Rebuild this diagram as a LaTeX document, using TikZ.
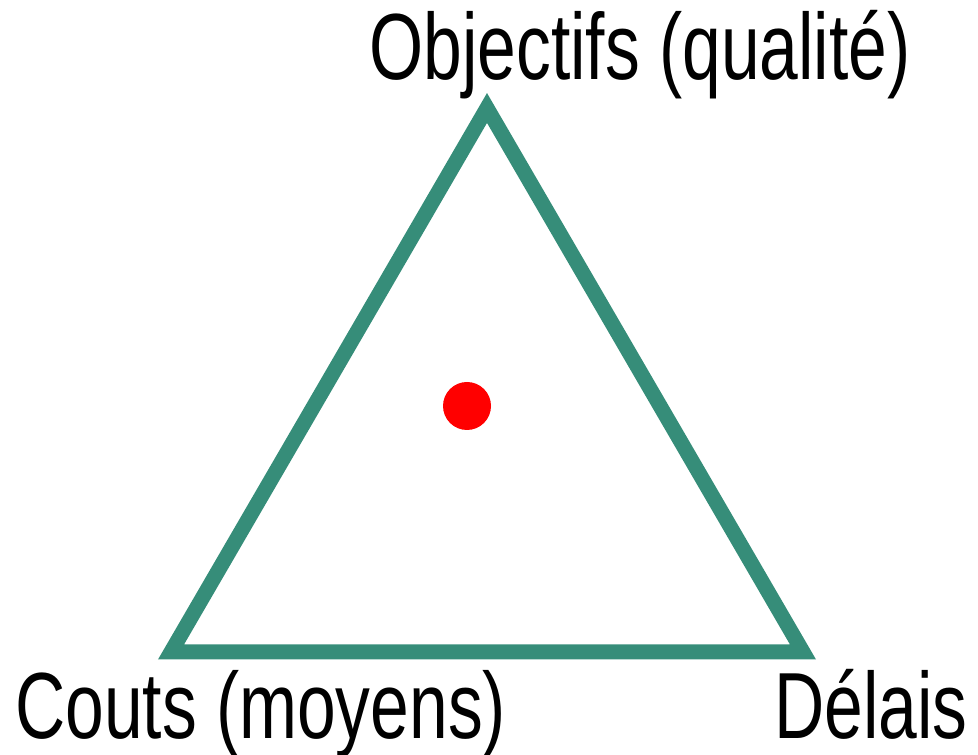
\documentclass[tikz,border=0pt]{standalone}
\usepackage{fontspec}
\setmainfont{Liberation Sans}[FakeStretch=0.74]
\usepackage{tikz}
\definecolor{triteal}{RGB}{54,141,121}

\begin{document}
\begin{tikzpicture}[x=1pt,y=1pt,
  lbl/.style={inner sep=0pt,font=\fontsize{94}{100}\selectfont},
  edge/.style={draw=triteal,line width=15pt,line join=miter}]
\useasboundingbox (0,0) rectangle (978,755);
% corners of the triangle
\coordinate (obj) at (487,647);
\coordinate (cout) at (171,103);
\coordinate (del) at (803,103);
\draw[edge] (obj) -- (del) -- (cout) -- cycle;
% current point
\fill[red] (467,349) circle (24);
\node[lbl,anchor=base] (objlbl) at (640,675) {Objectifs (qualité)};
\node[lbl,anchor=base west] (coutlbl) at (15,16) {Couts (moyens)};
\node[lbl,anchor=base east] (dellbl) at (968,16) {Délais};
\end{tikzpicture}
\end{document}
